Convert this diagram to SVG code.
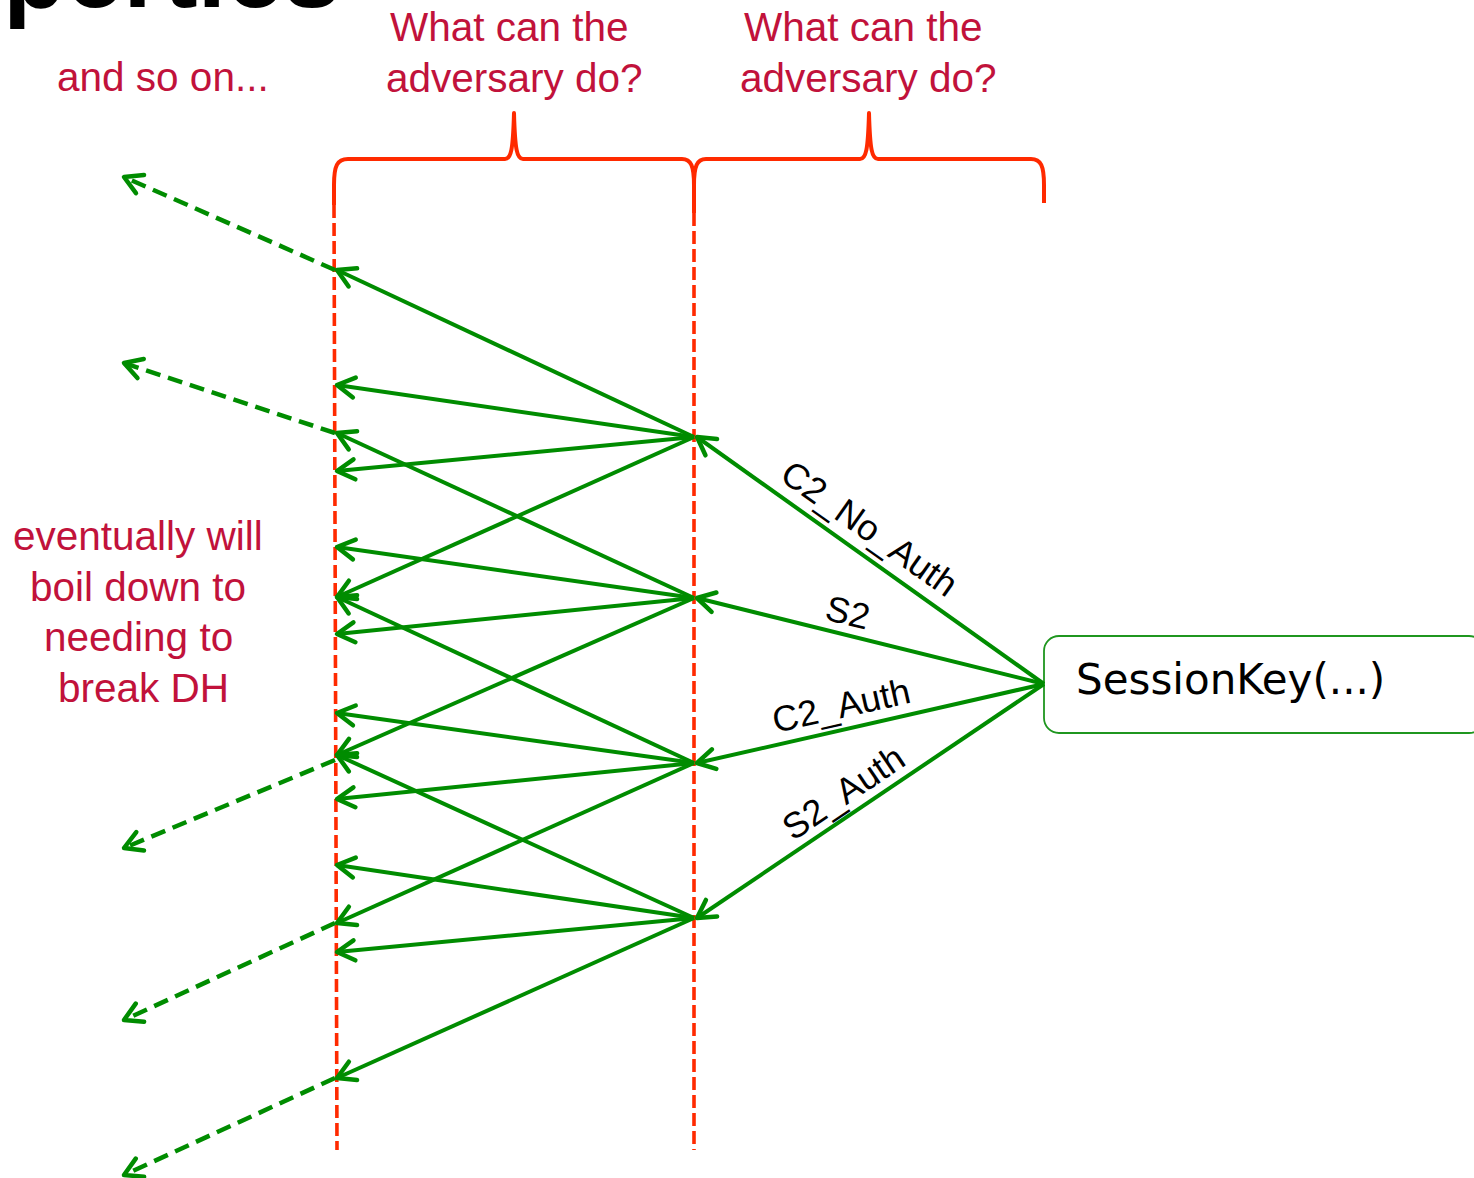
<svg xmlns="http://www.w3.org/2000/svg" width="1474" height="1178" viewBox="0 0 1474 1178">
  <style>
    .title { font-family: "Liberation Sans", Arial, sans-serif; font-weight: bold; font-size: 103px; fill: #000000; }
    .note { font-family: "Liberation Sans", Arial, sans-serif; font-size: 40.5px; fill: #c1123b; }
    .lbl { font-family: "Liberation Sans", Arial, sans-serif; font-size: 36px; fill: #000000; }
    .node-text { font-family: "DejaVu Sans", Verdana, sans-serif; font-size: 42px; fill: #000000; }
    .node-box { fill: #ffffff; stroke: #1f961f; stroke-width: 1.8; }
    .brace { fill: none; stroke: #ff2a00; stroke-width: 4; stroke-linejoin: round; }
    .lane { fill: none; stroke: #ff2a00; stroke-width: 3.6; stroke-dasharray: 13 5; }
    .msg { fill: none; stroke: #008c00; stroke-width: 4; marker-end: url(#chev); }
    .cont { fill: none; stroke: #008c00; stroke-width: 4.5; stroke-dasharray: 15 8; marker-end: url(#chev); }
  </style>
  <defs>
    <marker id="chev" markerUnits="userSpaceOnUse" viewBox="-22 -14 26 28" refX="0" refY="0" markerWidth="26" markerHeight="28" orient="auto">
      <path d="M-17.5,-10 L0,0 L-17.5,10" fill="none" stroke="#008c00" stroke-width="4.5" stroke-linecap="round" stroke-linejoin="round"/>
    </marker>
  </defs>

  <rect width="1474" height="1178" fill="#ffffff"/>

  <!-- slide heading, clipped by the top edge -->
  <text class="title" x="3" y="7">perties</text>

  <!-- annotations -->
  <g id="note-and-so-on">
    <text class="note" x="57" y="91">and so on...</text>
  </g>
  <g id="note-adversary-1">
    <text class="note" x="390" y="41">What can the</text>
    <text class="note" x="386" y="92">adversary do?</text>
  </g>
  <g id="note-adversary-2">
    <text class="note" x="744" y="41">What can the</text>
    <text class="note" x="740" y="92">adversary do?</text>
  </g>
  <g id="note-dh">
    <text class="note" x="13" y="550">eventually will</text>
    <text class="note" x="30" y="601">boil down to</text>
    <text class="note" x="44" y="651">needing to</text>
    <text class="note" x="58" y="702">break DH</text>
  </g>

  <!-- braces over the two adversary steps -->
  <g id="braces">
    <path class="brace" d="M334,205 L334,185 C334,166 337,159 348,159 L505,159 C511,159 513,150 514,113 C515,150 517,159 523,159 L682,159 C691,159 694,166 694,185 L694,213"/>
    <path class="brace" d="M694,213 L694,185 C694,166 697,159 706,159 L860,159 C866,159 868,150 869,113 C870,150 872,159 878,159 L1031,159 C1041,159 1044,166 1044,185 L1044,203"/>
  </g>

  <!-- adversary step lanes -->
  <g id="lanes">
    <line class="lane" x1="334" y1="205" x2="337" y2="1150"/>
    <line class="lane" x1="694" y1="213" x2="694" y2="1150"/>
  </g>

  <!-- session key node -->
  <g id="session-key">
    <rect class="node-box" x="1044" y="636" width="440" height="97" rx="15" ry="15"/>
    <text class="node-text" x="1076" y="694">SessionKey(...)</text>
  </g>

  <!-- connectors -->
  <g id="connectors">
    <!-- messages out of the session key -->
    <line class="msg" x1="1044" y1="684" x2="697" y2="437"/>
    <line class="msg" x1="1044" y1="684" x2="697" y2="598"/>
    <line class="msg" x1="1044" y1="684" x2="697" y2="763"/>
    <line class="msg" x1="1044" y1="684" x2="697" y2="918"/>

    <!-- second step fan-out -->
    <line class="msg" x1="694" y1="437" x2="337" y2="270"/>
    <line class="msg" x1="694" y1="437" x2="337" y2="385"/>
    <line class="msg" x1="694" y1="437" x2="337" y2="471"/>
    <line class="msg" x1="694" y1="437" x2="337" y2="597"/>

    <line class="msg" x1="694" y1="598" x2="337" y2="433"/>
    <line class="msg" x1="694" y1="598" x2="337" y2="547"/>
    <line class="msg" x1="694" y1="598" x2="337" y2="634"/>
    <line class="msg" x1="694" y1="598" x2="337" y2="755"/>

    <line class="msg" x1="694" y1="763" x2="337" y2="597"/>
    <line class="msg" x1="694" y1="763" x2="337" y2="713"/>
    <line class="msg" x1="694" y1="763" x2="337" y2="799"/>
    <line class="msg" x1="694" y1="763" x2="337" y2="923"/>

    <line class="msg" x1="694" y1="918" x2="337" y2="755"/>
    <line class="msg" x1="694" y1="918" x2="337" y2="865"/>
    <line class="msg" x1="694" y1="918" x2="337" y2="952"/>
    <line class="msg" x1="694" y1="918" x2="337" y2="1078"/>

    <!-- continuing further -->
    <line class="cont" x1="335" y1="270" x2="124" y2="177"/>
    <line class="cont" x1="335" y1="433" x2="124" y2="363"/>
    <line class="cont" x1="335" y1="760" x2="124" y2="848"/>
    <line class="cont" x1="335" y1="923" x2="124" y2="1020"/>
    <line class="cont" x1="335" y1="1078" x2="124" y2="1175"/>

    <!-- message labels -->
    <text class="lbl" text-anchor="middle" transform="translate(870,528) rotate(35.3)" y="13">C2_No_Auth</text>
    <text class="lbl" text-anchor="middle" transform="translate(848,612) rotate(13.8)" y="13">S2</text>
    <text class="lbl" text-anchor="middle" transform="translate(841,705) rotate(-12.7)" y="13">C2_Auth</text>
    <text class="lbl" text-anchor="middle" transform="translate(843,792) rotate(-34)" y="13">S2_Auth</text>
  </g>
</svg>
